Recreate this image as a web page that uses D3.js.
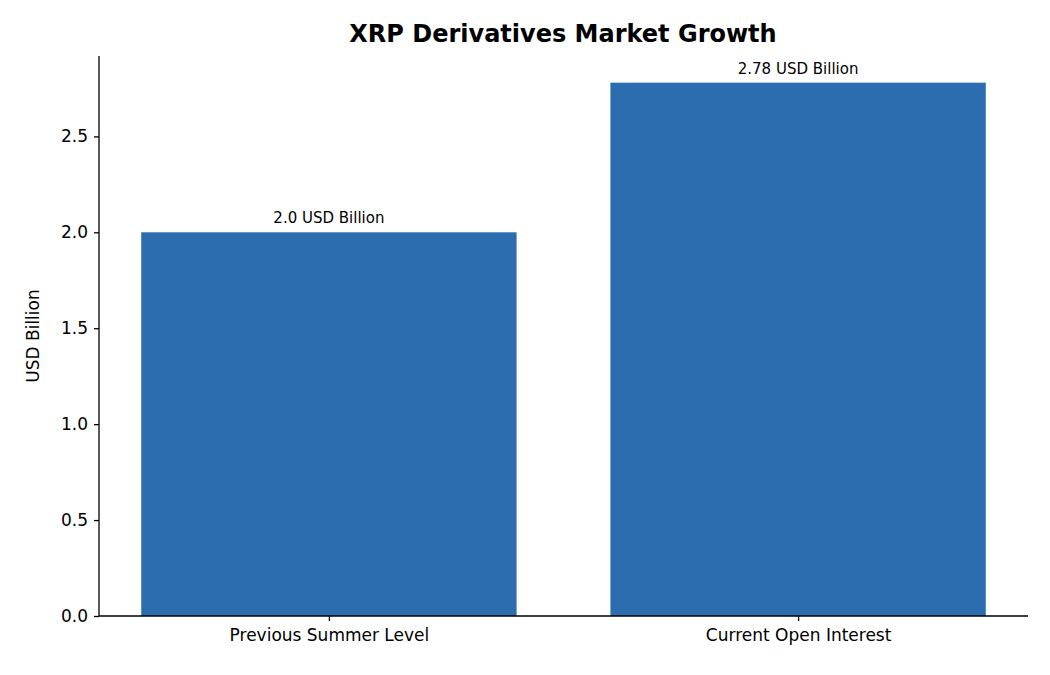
<!DOCTYPE html>
<html><head><meta charset="utf-8">
<script src="https://cdn.jsdelivr.net/npm/d3@7"></script>
<style>body{margin:0;background:#fff}text{font-family:"DejaVu Sans",sans-serif}</style>
</head><body><svg id="c" width="1050" height="675"></svg>
<script>
const categories = ["Previous Summer Level", "Current Open Interest"];
const values = [2.0, 2.78];
const labels = ["2.0 USD Billion", "2.78 USD Billion"];
const yTicks = [0, 0.5, 1.0, 1.5, 2.0, 2.5];

const svg = d3.select("#c");
const L = 99, R = 1028, T = 56, B = 616;
const x = d3.scaleLinear().domain([-0.49, 1.49]).range([L, R]);
const y = d3.scaleLinear().domain([0, 2.919]).range([B, T]);
const bw = x(0.8) - x(0);

svg.selectAll("rect.bar").data(values).join("rect")
  .attr("x", (d, i) => x(i - 0.4)).attr("width", bw)
  .attr("y", d => y(d)).attr("height", d => B - y(d)).attr("fill", "#2c6db0");

svg.selectAll("text.lab").data(values).join("text")
  .attr("x", (d, i) => x(i)).attr("y", d => y(d) - 9)
  .attr("text-anchor", "middle").attr("font-size", 15).text((d, i) => labels[i]);

const ya = svg.append("g").attr("transform", `translate(${L},0)`)
  .call(d3.axisLeft(y).tickValues(yTicks).tickFormat(d3.format(".1f")).tickSize(5).tickPadding(6));
const xa = svg.append("g").attr("transform", `translate(0,${B})`)
  .call(d3.axisBottom(x).tickValues([0, 1]).tickFormat((d) => categories[d]).tickSize(5).tickPadding(8));
[ya, xa].forEach(a => {
  a.selectAll("text").attr("font-size", 17).attr("fill", "#000").style("font-family", '"DejaVu Sans",sans-serif');
  a.selectAll("line,path").attr("stroke", "#000").attr("stroke-width", 1.3);
});
ya.select("path").attr("d", `M0,${B}V${T}`);
xa.select("path").attr("d", `M${L},0H${R}`);

svg.append("text").attr("x", 563).attr("y", 42).attr("text-anchor", "middle")
  .attr("font-size", 24).attr("font-weight", "bold").text("XRP Derivatives Market Growth");
svg.append("text").attr("transform", `translate(39,336) rotate(-90)`)
  .attr("text-anchor", "middle").attr("font-size", 17).text("USD Billion");
</script></body></html>
